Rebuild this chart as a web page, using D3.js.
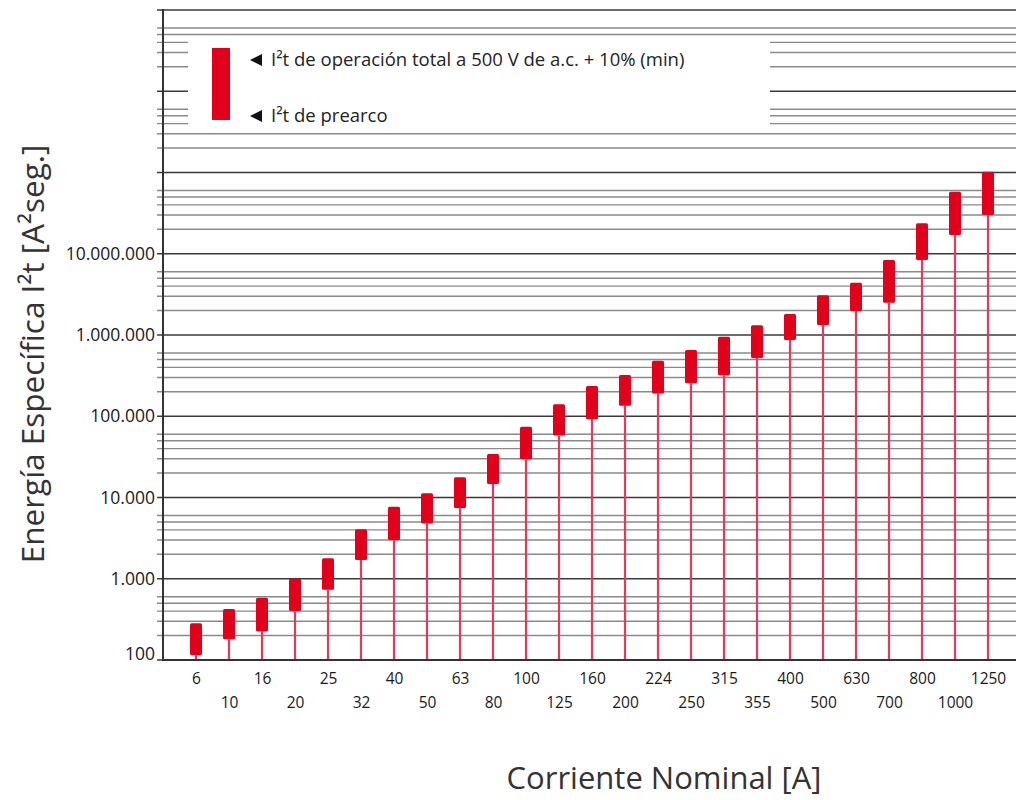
<!DOCTYPE html>
<html>
<head>
<meta charset="utf-8">
<script src="https://cdn.jsdelivr.net/npm/d3@7"></script>
<style>
  html, body { margin: 0; padding: 0; background: #fff; }
  svg { display: block; }
  .narrow { font-family: "Open Sans", sans-serif; }
</style>
</head>
<body>
<div id="chart"></div>
<script>
// rated currents (x categories)
const currents = ["6", "10", "16", "20", "25", "32", "40", "50", "63", "80", "100", "125", "160",
                  "200", "224", "250", "315", "355", "400", "500", "630", "700", "800", "1000", "1250"];

// pre-arcing I2t (bottom of each bar) [A2s]
const prearc = [115, 180, 225, 400, 730, 1700, 3000, 4800, 7400, 14700, 29500, 58000, 92000,
                135000, 190000, 255000, 320000, 520000, 870000, 1330000, 1980000, 2500000,
                8400000, 17000000, 30000000];

// total operating I2t at 500 V a.c. + 10% (top of each bar) [A2s]
const total = [283, 425, 585, 1010, 1790, 4060, 7700, 11300, 17700, 34300, 74000, 141000, 236000,
               322000, 483000, 654000, 953000, 1320000, 1810000, 3080000, 4400000, 8380000,
               23700000, 58000000, 102000000];

// y axis labels and grid
const yLabelValues = [1e2, 1e3, 1e4, 1e5, 1e6, 1e7];
const decades = [1e2, 1e3, 1e4, 1e5, 1e6, 1e7, 1e8, 1e9, 1e10];
const minorSteps = [2, 3, 4, 5, 6];

const legendTotal = "I²t de operación total a 500 V de a.c. + 10% (min)";
const legendPrearc = "I²t de prearco";

const width = 1016, height = 800;
const red = "#e2001a";

const svg = d3.select("#chart").append("svg")
    .attr("width", width)
    .attr("height", height);

const x = d3.scalePoint()
    .domain(currents)
    .range([163, 1021])
    .padding(1);

const y = d3.scaleLog()
    .domain([1e2, 1e10])
    .range([660, 10]);

// grid lines
const minorVals = [];
decades.slice(0, -1).forEach(d => minorSteps.forEach(k => minorVals.push(d * k)));

const grid = svg.append("g");
grid.selectAll("line.minor")
    .data(minorVals)
    .join("line")
    .attr("class", "minor")
    .attr("x1", 157).attr("x2", width)
    .attr("y1", d => y(d)).attr("y2", d => y(d))
    .attr("stroke", "#8a8a8a")
    .attr("stroke-width", 1.4);

grid.selectAll("line.major")
    .data(decades)
    .join("line")
    .attr("class", "major")
    .attr("x1", 157).attr("x2", width)
    .attr("y1", d => y(d)).attr("y2", d => y(d))
    .attr("stroke", "#3a3a3a")
    .attr("stroke-width", 1.7);

// legend box hides the grid
svg.append("rect")
    .attr("x", 188).attr("y", 37)
    .attr("width", 582).attr("height", 91)
    .attr("fill", "#fff");

svg.append("rect")
    .attr("x", 212).attr("y", 48)
    .attr("width", 18).attr("height", 72)
    .attr("fill", red);

const leg = svg.append("g").attr("class", "narrow").attr("fill", "#222").attr("font-size", 18.5);
[[legendTotal, 66], [legendPrearc, 122]].forEach(([t, yy]) => {
    leg.append("path")
        .attr("d", `M250,${yy - 6} L262,${yy - 12} L262,${yy} Z`)
        .attr("fill", "#111");
    leg.append("text").attr("x", 271).attr("y", yy).text(t);
});

// stems from the axis to the bars
svg.append("g").selectAll("line")
    .data(currents)
    .join("line")
    .attr("x1", d => x(d)).attr("x2", d => x(d))
    .attr("y1", y(1e2))
    .attr("y2", (d, i) => y(prearc[i]))
    .attr("stroke", "#e5385a")
    .attr("stroke-width", 2.2);

// bars
svg.append("g").selectAll("rect")
    .data(currents)
    .join("rect")
    .attr("x", d => x(d) - 6)
    .attr("width", 12)
    .attr("y", (d, i) => y(total[i]))
    .attr("height", (d, i) => y(prearc[i]) - y(total[i]))
    .attr("rx", 1.5)
    .attr("fill", red);

// axes lines
svg.append("line")
    .attr("x1", 163).attr("x2", 163)
    .attr("y1", 9).attr("y2", 661)
    .attr("stroke", "#333").attr("stroke-width", 2);
svg.append("line")
    .attr("x1", 162).attr("x2", width)
    .attr("y1", 660).attr("y2", 660)
    .attr("stroke", "#333").attr("stroke-width", 2);

// y axis labels
const es = d3.formatLocale({ decimal: ",", thousands: ".", grouping: [3], currency: ["", ""] });
const yAxis = d3.axisLeft(y)
    .tickValues(yLabelValues)
    .tickFormat(es.format(",d"))
    .tickSize(0)
    .tickPadding(8);
const ya = svg.append("g")
    .attr("transform", "translate(163,0)")
    .attr("class", "narrow")
    .call(yAxis);
ya.select(".domain").remove();
ya.selectAll("text").attr("font-size", 17.5).attr("fill", "#1a1a1a")
    .attr("font-family", null);
ya.selectAll(".tick").filter(d => d === 1e2).select("text").attr("dy", "-0.05em");

// x axis labels, two staggered rows
const xAxis = d3.axisBottom(x).tickSize(0).tickPadding(0);
const xa = svg.append("g")
    .attr("transform", "translate(0,660)")
    .attr("class", "narrow")
    .call(xAxis);
xa.select(".domain").remove();
xa.selectAll("text")
    .attr("font-size", 15.5).attr("fill", "#1a1a1a").attr("font-family", null)
    .attr("dy", null)
    .attr("y", (d, i) => i % 2 === 0 ? 24 : 48);

// titles
svg.append("text")
    .attr("transform", "translate(44,354) rotate(-90)")
    .attr("text-anchor", "middle")
    .attr("font-family", "'Open Sans', sans-serif")
    .attr("font-size", 31.5)
    .attr("fill", "#333")
    .text("Energía Específica I²t [A²seg.]");

svg.append("text")
    .attr("x", 664).attr("y", 789)
    .attr("text-anchor", "middle")
    .attr("font-family", "'Open Sans', sans-serif")
    .attr("font-size", 31)
    .attr("fill", "#333")
    .text("Corriente Nominal [A]");
</script>
</body>
</html>
